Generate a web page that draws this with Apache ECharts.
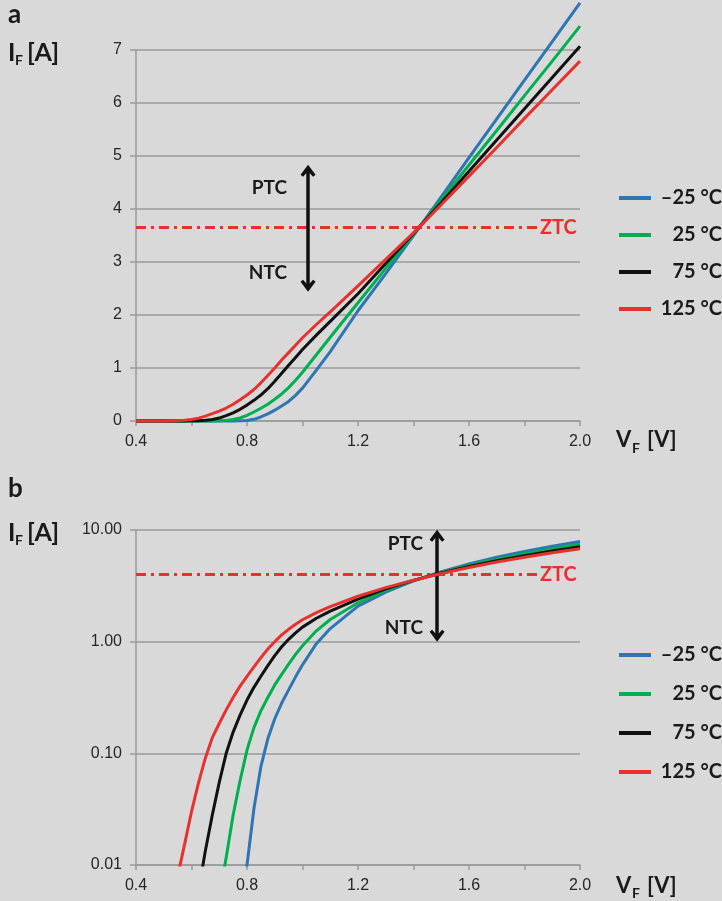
<!DOCTYPE html>
<html><head><meta charset="utf-8">
<script src="https://cdn.jsdelivr.net/npm/echarts@6/dist/echarts.min.js"></script>
<style>html,body{margin:0;padding:0;background:#d9d9d9}#c{width:722px;height:901px}</style>
</head><body><div id="c"></div>
<script>
// ---- data ----
const vf   = [0.40,0.50,0.55,0.575,0.60,0.625,0.65,0.675,0.70,0.725,0.75,0.775,0.80,0.825,0.85,0.875,0.90,0.925,0.95,0.975,1.00,1.05,1.10,1.20,1.30,1.40,1.50,1.60,1.70,1.80,1.90,2.00];
const iM25 = [0.0001,0.0001,0.0001,0.0001,0.0001,0.0001,0.0001,0.0001,0.0001,0.0002,0.0006,0.0028,0.01,0.032,0.076,0.135,0.204,0.282,0.37,0.484,0.62,0.96,1.31,2.08,2.78,3.50,4.23,4.97,5.70,6.43,7.16,7.89];
const i25  = [0.0001,0.0001,0.0001,0.0001,0.0002,0.0004,0.0008,0.0018,0.005,0.0117,0.028,0.057,0.107,0.17,0.24,0.316,0.41,0.51,0.63,0.77,0.92,1.25,1.58,2.23,2.88,3.52,4.17,4.83,5.48,6.14,6.79,7.45];
const i75  = [0.0001,0.0002,0.0005,0.0011,0.0025,0.0058,0.0134,0.028,0.055,0.10,0.155,0.22,0.30,0.39,0.49,0.61,0.75,0.90,1.05,1.20,1.35,1.62,1.88,2.40,2.97,3.54,4.12,4.71,5.30,5.89,6.48,7.07];
const i125 = [0.0001,0.002,0.0079,0.0153,0.03,0.054,0.091,0.138,0.185,0.245,0.316,0.40,0.49,0.595,0.72,0.86,1.00,1.15,1.29,1.43,1.57,1.82,2.06,2.55,3.05,3.55,4.08,4.62,5.16,5.71,6.25,6.79];
const names   = ['\u201325 \u00b0C','25 \u00b0C','75 \u00b0C','125 \u00b0C'];
const colors  = ['#2e75b6','#00b050','#111111','#e8312f'];
const curves  = [iM25, i25, i75, i125];
const xTicks  = [0.4, 0.8, 1.2, 1.6, 2.0];
const yTicksLin = [0,1,2,3,4,5,6,7];
const yTicksLog = [0.01, 0.1, 1, 10];
const ztcTop = 3.65, ztcBot = 4.0, ztcEnd = 1.845;
const arrowTop = {x:1.02, lo:2.55, hi:4.72};
const arrowBot = {x:1.485, lo:1.13, hi:8.9};

const RED = '#e8312f';
const AXC = '#9a9a9a';
const chevron = 'path://M0,10 L6,0 L12,10 L10,12 L6,6.5 L2,12 Z';

function xAxis(gi){
  return {type:'value', gridIndex:gi, min:0.4, max:2.0, interval:0.2,
    axisLine:{lineStyle:{color:AXC,width:1.5}},
    axisTick:{show:true,length:5,lineStyle:{color:AXC,width:1.5}},
    splitLine:{show:false},
    axisLabel:{color:'#262626',fontSize:16,fontFamily:'Liberation Sans',margin:13,
      formatter:v=>{const r=Math.round(v*10)/10; return xTicks.some(t=>Math.abs(t-r)<1e-6)? r.toFixed(1):'';}}};
}
const series=[];
[0,1].forEach(gi=>{
  curves.forEach((c,k)=>{
    series.push({type:'line', name:names[k], xAxisIndex:gi, yAxisIndex:gi,
      data: vf.map((x,i)=>[x,c[i]]), showSymbol:false, symbol:'none',
      smooth:false, clip: gi===1,
      lineStyle:{width:3,color:colors[k],join:'round'}, itemStyle:{color:colors[k]}, z:3+k});
  });
});
function annot(gi, ztc, arr){
  return {type:'line', xAxisIndex:gi, yAxisIndex:gi, data:[], z:2,
    markLine:{silent:true, animation:false, symbol:['none','none'],
      data:[
        [{coord:[0.4,ztc], lineStyle:{color:RED,width:3,type:[10,5,3,5]},
          label:{show:true,position:'end',formatter:'ZTC',color:RED,fontFamily:'Lato',fontWeight:'bold',fontSize:20,distance:3}},
         {coord:[ztcEnd,ztc]}],
        [{coord:[arr.x,arr.lo], symbol:chevron, symbolSize:[15,12], lineStyle:{color:'#111',width:3.5,type:'solid'}, label:{show:false}},
         {coord:[arr.x,arr.hi], symbol:chevron, symbolSize:[15,12]}]
      ]}};
}
series.push(annot(0,ztcTop,arrowTop));
series.push(annot(1,ztcBot,arrowBot));

function legend(top,gap){
  return {data:names, orient:'vertical', left:614, top:top, itemWidth:32, itemHeight:4, itemGap:gap,
    icon:'rect', selectedMode:false, formatter:n=>'{t|'+n+'}',
    textStyle:{rich:{t:{width:66,align:'right',fontFamily:'Lato',fontWeight:'bold',fontSize:20,lineHeight:20,color:'#1a1a1a'}}}};
}
function txt(x,y,text,size,color,align){
  return {type:'text', x:x, y:y, style:{text:text, font:'bold '+size+'px Lato', fill:color||'#1a1a1a',
    align:align||'left', verticalAlign:'middle', textAlign:align||'left', textVerticalAlign:'middle'}};
}
const option={
  backgroundColor:'#d9d9d9', animation:false,
  grid:[{left:136,right:142,top:50,height:371},{left:136,right:142,top:530,height:335}],
  xAxis:[xAxis(0),xAxis(1)],
  yAxis:[
    {type:'value',gridIndex:0,min:0,max:7,interval:1,
     axisLine:{show:true,lineStyle:{color:AXC,width:1.5}},
     axisTick:{show:true,length:6,lineStyle:{color:AXC,width:1.5}},
     splitLine:{show:true,lineStyle:{color:AXC,width:1.5}},
     axisLabel:{color:'#262626',fontSize:16,fontFamily:'Liberation Sans',margin:14,
       formatter:v=>yTicksLin.includes(Math.round(v))?String(Math.round(v)):''}},
    {type:'log',logBase:10,gridIndex:1,min:0.01,max:10,
     axisLine:{show:true,lineStyle:{color:AXC,width:1.5}},
     axisTick:{show:true,length:6,lineStyle:{color:AXC,width:1.5}},
     splitLine:{show:true,lineStyle:{color:AXC,width:1.5}},
     minorTick:{show:false}, minorSplitLine:{show:false},
     axisLabel:{color:'#262626',fontSize:16,fontFamily:'Liberation Sans',margin:14,
       formatter:v=>Number(v).toFixed(2)}}
  ],
  legend:[legend(183,17),legend(640,19)],
  series:series,
  graphic:[
    txt(8,15,'a',26),
    txt(8,53,'I',25), txt(15,60,'F',14), txt(27,53,'[A]',25),
    txt(8,489,'b',26),
    txt(8,533,'I',25), txt(15,540,'F',14), txt(27,533,'[A]',25),
    txt(616,440,'V',22), txt(632,448,'F',14), txt(647,440,'[V]',22),
    txt(616,886,'V',22), txt(632,893,'F',14), txt(647,886,'[V]',22),
    txt(287,188,'PTC',19,null,'right'), txt(287,273,'NTC',19,null,'right'),
    txt(423,544,'PTC',19,null,'right'), txt(423,628,'NTC',19,null,'right')
  ]
};
const chart=echarts.init(document.getElementById('c'),null,{renderer:'canvas'});
chart.setOption(option);
</script></body></html>
